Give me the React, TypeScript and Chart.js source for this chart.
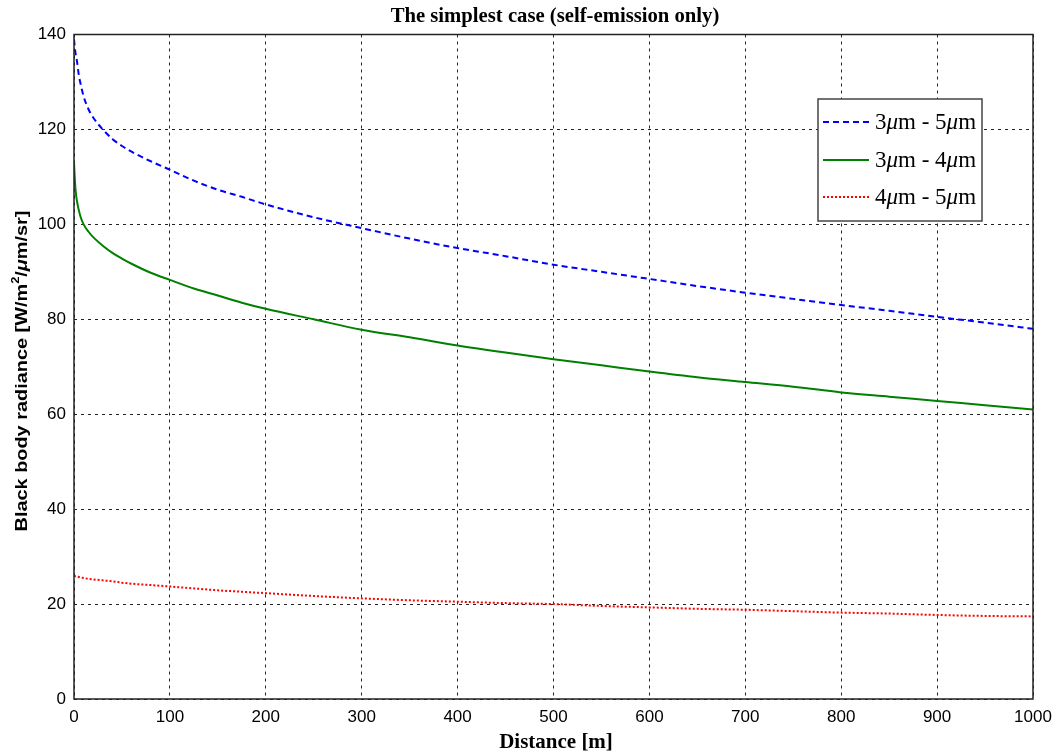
import React, { useEffect, useRef } from "react";
import { Chart, registerables } from "chart.js";

Chart.register(...registerables);

const distances = [0, 1, 2, 3, 5, 7, 10, 15, 20, 30, 40, 50, 60, 80, 100, 125, 150, 175, 200, 250, 300, 350, 400, 450, 500, 550, 600, 650, 700, 750, 800, 850, 900, 950, 1000];
const band35 = [139, 137, 135.5, 134.5, 131.5, 129.5, 127, 124.3, 122.5, 120, 118, 116.5, 115.3, 113.3, 111.5, 109.2, 107.3, 105.8, 104.2, 101.5, 99.2, 97, 95, 93.3, 91.5, 90, 88.5, 87, 85.6, 84.3, 83, 81.8, 80.5, 79.3, 78];
const band34 = [113, 109, 106.5, 105, 103, 101.5, 100, 98.5, 97.3, 95.5, 94, 92.8, 91.7, 89.8, 88.3, 86.5, 85, 83.5, 82.2, 80, 77.8, 76.2, 74.5, 73, 71.6, 70.3, 69, 67.8, 66.8, 65.8, 64.6, 63.7, 62.8, 61.9, 61];
const band45 = [25.9, 25.9, 25.8, 25.8, 25.7, 25.6, 25.5, 25.3, 25.2, 25.0, 24.8, 24.5, 24.3, 24.0, 23.7, 23.3, 22.9, 22.6, 22.3, 21.7, 21.2, 20.8, 20.5, 20.2, 20.0, 19.6, 19.3, 19.0, 18.8, 18.5, 18.2, 18.0, 17.7, 17.5, 17.4];

const seriesLabels = [
  ["3", "μ", "m - 5", "μ", "m"],
  ["3", "μ", "m - 4", "μ", "m"],
  ["4", "μ", "m - 5", "μ", "m"],
];
const titleText = "The simplest case (self-emission only)";
const xTitle = "Distance [m]";

const SERIF = '"Liberation Serif", "Times New Roman", serif';
const SANS = '"Liberation Sans", Arial, sans-serif';

const decorPlugin = {
  id: "decor",
  afterDraw(chart: any) {
    const ctx = chart.ctx as CanvasRenderingContext2D;
    const a = chart.chartArea;
    ctx.save();
    // frame
    ctx.strokeStyle = "#222";
    ctx.lineWidth = 1.5;
    ctx.setLineDash([]);
    ctx.strokeRect(a.left, a.top, a.right - a.left, a.bottom - a.top);

    // title
    ctx.fillStyle = "#000";
    ctx.font = `bold 20.7px ${SERIF}`;
    ctx.textAlign = "center";
    ctx.textBaseline = "alphabetic";
    ctx.fillText(titleText, 555, 22);

    // x title
    ctx.font = `bold 21px ${SERIF}`;
    ctx.fillText(xTitle, 556, 748);

    // y title
    ctx.save();
    ctx.translate(22, 371);
    ctx.rotate(-Math.PI / 2);
    ctx.scale(1.17, 1);
    ctx.textBaseline = "middle";
    const parts: [string, string, number][] = [
      ["Black body radiance [W/m", `bold 17px ${SANS}`, 0],
      ["2", `bold 11px ${SANS}`, -6],
      ["/", `bold 17px ${SANS}`, 0],
      ["μ", `bold italic 17px ${SANS}`, 0],
      ["m/sr]", `bold 17px ${SANS}`, 0],
    ];
    let total = 0;
    for (const p of parts) {
      ctx.font = p[1];
      total += ctx.measureText(p[0]).width;
    }
    let x = -total / 2;
    ctx.textAlign = "left";
    for (const p of parts) {
      ctx.font = p[1];
      ctx.fillText(p[0], x, p[2]);
      x += ctx.measureText(p[0]).width;
    }
    ctx.restore();

    // legend
    const lx = 818, ly = 99, lw = 164, lh = 122;
    ctx.fillStyle = "#fff";
    ctx.fillRect(lx, ly, lw, lh);
    ctx.strokeStyle = "#444";
    ctx.lineWidth = 1.5;
    ctx.strokeRect(lx, ly, lw, lh);
    const rows = [122, 160, 197];
    chart.data.datasets.forEach((ds: any, i: number) => {
      const y = rows[i];
      ctx.strokeStyle = ds.borderColor;
      ctx.lineWidth = ds.borderWidth;
      ctx.setLineDash(ds.borderDash || []);
      ctx.beginPath();
      ctx.moveTo(823, y);
      ctx.lineTo(869, y);
      ctx.stroke();
      ctx.setLineDash([]);
      ctx.fillStyle = "#000";
      ctx.textAlign = "left";
      ctx.textBaseline = "middle";
      let tx = 875;
      seriesLabels[i].forEach((s) => {
        ctx.font = s === "μ" ? `italic 23px ${SERIF}` : `23px ${SERIF}`;
        ctx.fillText(s, tx, y + 1);
        tx += ctx.measureText(s).width;
      });
    });
    ctx.restore();
  },
};

export default function App() {
  const ref = useRef<HTMLCanvasElement>(null);
  useEffect(() => {
    const mk = (vals: number[]) => distances.map((d, i) => ({ x: d, y: vals[i] }));
    const chart = new Chart(ref.current!, {
      type: "line",
      data: {
        datasets: [
          { label: "3μm - 5μm", data: mk(band35), borderColor: "#0000ff", borderWidth: 2, borderDash: [6, 4], pointRadius: 0, cubicInterpolationMode: "monotone", fill: false },
          { label: "3μm - 4μm", data: mk(band34), borderColor: "#008000", borderWidth: 2, pointRadius: 0, cubicInterpolationMode: "monotone", fill: false },
          { label: "4μm - 5μm", data: mk(band45), borderColor: "#ff0000", borderWidth: 2, borderDash: [2, 2], pointRadius: 0, cubicInterpolationMode: "monotone", fill: false },
        ],
      },
      plugins: [decorPlugin],
      options: {
        responsive: false,
        animation: false,
        layout: { padding: { top: 34.5, right: 20, left: 0, bottom: 0 } },
        plugins: { legend: { display: false }, title: { display: false }, tooltip: { enabled: false } },
        scales: {
          x: {
            type: "linear",
            min: 0,
            max: 1000,
            afterFit: (s: any) => { s.height = 57; s.paddingLeft = 0; s.paddingRight = 0; },
            ticks: { stepSize: 100, color: "#000", font: { family: SANS, size: 17 }, padding: 8, maxRotation: 0, callback: (v: any) => String(v) },
            grid: { color: "#222", lineWidth: 1, drawTicks: false },
            border: { display: false, dash: [3, 4] },
          },
          y: {
            min: 0,
            max: 140,
            afterFit: (s: any) => { s.width = 74; s.paddingTop = 0; s.paddingBottom = 0; },
            ticks: { stepSize: 20, color: "#000", font: { family: SANS, size: 17 }, padding: 8, callback: (v: any) => String(v) },
            grid: { color: "#222", lineWidth: 1, drawTicks: false },
            border: { display: false, dash: [3, 4] },
          },
        },
      },
    });
    return () => chart.destroy();
  }, []);
  return (
    <div style={{ position: "fixed", left: 0, top: 0, width: 1053, height: 756, background: "#fff" }}>
      <canvas ref={ref} width={1053} height={756} />
    </div>
  );
}
